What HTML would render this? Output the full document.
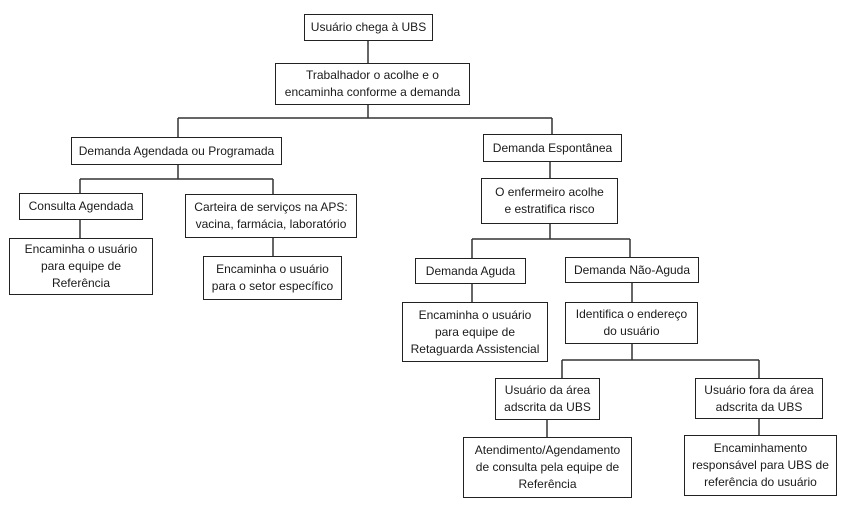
<!DOCTYPE html>
<html><head><meta charset="utf-8"><style>
body{margin:0;width:850px;height:518px;background:#fff;position:relative;overflow:hidden;font-family:"Liberation Sans",sans-serif;}
.b{position:absolute;box-sizing:border-box;border:1.5px solid #222;display:flex;align-items:center;justify-content:center;text-align:center;font-size:12px;line-height:17px;color:#1a1a1a;background:#fff;white-space:nowrap;}
svg{position:absolute;left:0;top:0;}
</style></head><body>
<svg width="850" height="518"><g stroke="#333" stroke-width="1.5" fill="none">
<path d="M368 40V63M368 105V118M178 118H552M178 118V137M552 118V134"/>
<path d="M178 165V179M80 179H273M80 179V193M273 179V194M80 220V238M273 238V256"/>
<path d="M550 162V178M550 224V239M472 239H630M472 239V258M630 239V257M472 284V302M632 283V302"/>
<path d="M632 344V360M562 360H759M562 360V378M759 360V378M547 420V437M759 419V435"/>
</g></svg>
<div class="b" style="left:304px;top:14px;width:129px;height:27px">Usuário chega à UBS</div>
<div class="b" style="left:275px;top:63px;width:195px;height:42px">Trabalhador o acolhe e o<br>encaminha conforme a demanda</div>
<div class="b" style="left:71px;top:137px;width:211px;height:28px">Demanda Agendada ou Programada</div>
<div class="b" style="left:483px;top:134px;width:139px;height:28px">Demanda Espontânea</div>
<div class="b" style="left:19px;top:193px;width:124px;height:27px">Consulta Agendada</div>
<div class="b" style="left:185px;top:194px;width:172px;height:44px">Carteira de serviços na APS:<br>vacina, farmácia, laboratório</div>
<div class="b" style="left:9px;top:238px;width:144px;height:57px">Encaminha o usuário<br>para equipe de<br>Referência</div>
<div class="b" style="left:203px;top:256px;width:139px;height:44px">Encaminha o usuário<br>para o setor específico</div>
<div class="b" style="left:481px;top:178px;width:137px;height:46px">O enfermeiro acolhe<br>e estratifica risco</div>
<div class="b" style="left:415px;top:258px;width:111px;height:26px">Demanda Aguda</div>
<div class="b" style="left:565px;top:257px;width:134px;height:26px">Demanda Não-Aguda</div>
<div class="b" style="left:402px;top:302px;width:146px;height:60px">Encaminha o usuário<br>para equipe de<br>Retaguarda Assistencial</div>
<div class="b" style="left:565px;top:302px;width:133px;height:42px">Identifica o endereço<br>do usuário</div>
<div class="b" style="left:495px;top:378px;width:105px;height:42px">Usuário da área<br>adscrita da UBS</div>
<div class="b" style="left:695px;top:378px;width:128px;height:41px">Usuário fora da área<br>adscrita da UBS</div>
<div class="b" style="left:463px;top:437px;width:169px;height:61px">Atendimento/Agendamento<br>de consulta pela equipe de<br>Referência</div>
<div class="b" style="left:684px;top:435px;width:153px;height:61px">Encaminhamento<br>responsável para UBS de<br>referência do usuário</div>
</body></html>
